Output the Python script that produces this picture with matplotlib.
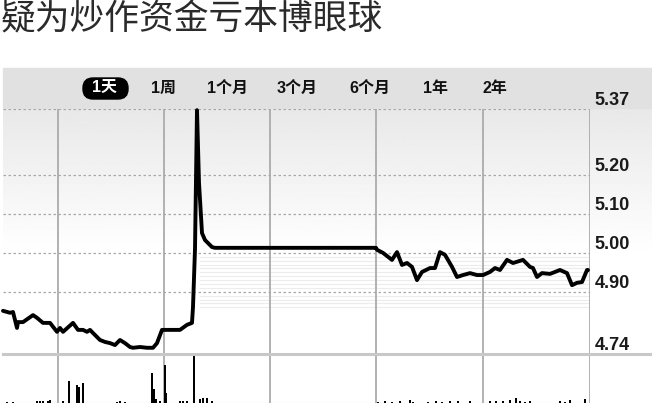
import numpy as np
import matplotlib.pyplot as plt
from matplotlib.patches import Rectangle, FancyBboxPatch
from matplotlib.lines import Line2D

# =============================================================================
# datos (t = posicion en la sesion, precio en yuanes)
# =============================================================================
t_price = [0, 7, 10, 14, 15, 20, 30, 34, 40, 47, 54, 57, 60, 70, 75, 80, 84, 87,
           90, 97, 102, 107, 112, 117, 122, 127, 130, 137, 144, 150, 154, 159,
           164, 177, 184, 189, 190, 192, 194, 196, 199, 202, 209, 212, 373, 374,
           380, 389, 394, 399, 404, 409, 414, 419, 427, 432, 437, 442, 449, 454,
           460, 467, 474, 480, 487, 492, 497, 504, 510, 520, 527, 530, 534, 539,
           547, 557, 564, 569, 574, 579, 584, 585]
price = [4.851, 4.846, 4.848, 4.807, 4.822, 4.822, 4.840, 4.833, 4.820, 4.820,
         4.797, 4.807, 4.797, 4.820, 4.802, 4.802, 4.797, 4.802, 4.794, 4.776,
         4.771, 4.768, 4.763, 4.776, 4.768, 4.758, 4.756, 4.758, 4.756, 4.756,
         4.768, 4.802, 4.802, 4.802, 4.815, 4.820, 4.861, 5.010, 5.367, 5.180,
         5.051, 5.033, 5.015, 5.013, 5.013, 5.008, 5.000, 4.982, 5.002, 4.969,
         4.974, 4.964, 4.930, 4.951, 4.961, 4.961, 5.002, 4.995, 4.964, 4.938,
         4.943, 4.948, 4.943, 4.943, 4.951, 4.961, 4.956, 4.982, 4.974, 4.982,
         4.964, 4.961, 4.938, 4.948, 4.946, 4.956, 4.948, 4.917, 4.923, 4.925,
         4.956, 4.956]

vol_t = [4, 10, 34, 37, 40, 45, 47, 60, 66, 74, 76, 80, 114, 117, 122, 149, 151,
         153, 157, 162, 163, 177, 180, 184, 191, 197, 200, 204, 209, 375, 382,
         389, 397, 407, 410, 425, 433, 439, 447, 455, 467, 487, 493, 500, 507,
         513, 517, 522, 527, 557, 562, 567, 582]
vol = [1, 1, 2, 2, 2, 2, 3, 2, 22, 18, 16, 20, 1, 2, 1, 30, 14, 4, 2, 38, 10, 2,
       2, 2, 48, 4, 5, 5, 2, 1, 2, 1, 2, 3, 1, 1, 2, 1, 2, 2, 2, 2, 2, 2, 3, 5,
       2, 1, 2, 2, 1, 3, 4]

yticks = [5.37, 5.20, 5.10, 5.00, 4.90, 4.74]
ygrid = [5.37, 5.20, 5.10, 5.00, 4.90]
xgrid = [55, 161, 267, 373, 480, 587]
botones = ["1天", "1周", "1个月", "3个月", "6个月", "1年", "2年"]
boton_x = [105, 163, 228, 297, 370, 436, 495]

titulo = "疑为炒作资金亏本博眼球"

# =============================================================================
# figura
# =============================================================================
W, H = 652, 411
fig = plt.figure(figsize=(W / 100, H / 100), dpi=100)
fig.patch.set_facecolor("white")

def fx(px):
    return px / W

def fy(py):
    return 1 - py / H

# barra gris de arriba
fig.patches.append(Rectangle((fx(3), fy(108)), fx(649), 40 / H,
                             transform=fig.transFigure, color="#e1e1e1", zorder=0))

# fondo degradado (gris arriba, blanco abajo)
bg = fig.add_axes([fx(3), fy(354), fx(649), 246 / H], zorder=0)
grad = np.clip(np.linspace(0, 1, 200).reshape(-1, 1) / 0.6, 0, 1)
bg.imshow(0.91 + 0.09 * grad, aspect="auto", cmap="gray", vmin=0, vmax=1,
          extent=[0, 1, 0, 1], origin="upper")
bg.axis("off")

ax = fig.add_axes([fx(3), fy(354), fx(587), 245 / H], zorder=2)
axv = fig.add_axes([fx(3), fy(403), fx(587), 49 / H], zorder=2)

for a in (ax, axv):
    a.set_facecolor("none")
    a.set_xlim(0, 587)
    for s in a.spines.values():
        s.set_visible(False)
    a.set_xticks([])
    a.set_yticks([])
    for g in xgrid:
        a.axvline(g, color="#ababab", lw=1.3, zorder=1)

ax.set_ylim(4.74, 5.37)
axv.set_ylim(0, 49)

for v in ygrid:
    ax.axhline(v, color="#a8a8a8", lw=0.9, ls=(0, (2, 2)), zorder=1)

# rayas claras bajo la linea plana
for v in [4.99, 4.98, 4.97, 4.96, 4.95, 4.94, 4.93, 4.92, 4.91, 4.89, 4.88, 4.87, 4.86]:
    ax.plot([197, 587], [v, v], color="#ececec", lw=0.8, zorder=0.5)

ax.plot(t_price, price, color="black", lw=2.8, solid_joinstyle="round",
        solid_capstyle="round", zorder=3, clip_on=False)

axv.bar(vol_t, vol, width=1.4, color="black", zorder=3)
axv.axhline(0, color="#d5d5d5", lw=0.8, zorder=1)

# linea separadora gruesa
fig.add_artist(Line2D([fx(3), 1], [fy(354), fy(354)], transform=fig.transFigure,
                      color="#c8c8c8", lw=2.2, zorder=4))

# etiquetas del eje derecho
for v in yticks:
    ax.annotate(f"{v:.2f}", xy=(1, v), xycoords=ax.get_yaxis_transform(),
                xytext=(3.5, 3), textcoords="offset points", va="baseline",
                ha="left", fontsize=13, fontweight="bold", color="#1a1a1a",
                family=["Liberation Sans", "DejaVu Sans"], annotation_clip=False)

# botones de rango
fig.patches.append(FancyBboxPatch((83, H - 99), 45, 21,
                                  boxstyle="round,pad=0,rounding_size=10",
                                  transform=None, color="black", zorder=5))
for i, (b, x) in enumerate(zip(botones, boton_x)):
    fig.text(fx(x), fy(88), b, ha="center", va="center", fontsize=11.5,
             fontweight="bold", color="white" if i == 0 else "#111111",
             family=["Liberation Sans", "Noto Sans CJK SC"], zorder=6)

# titulo
fig.text(fx(1), fy(2), titulo, ha="left", va="top", fontsize=25,
         color="#2a2a2a", family=["Noto Sans CJK SC", "DejaVu Sans"],
         fontweight="light")

fig.savefig("out.png", dpi=100)
